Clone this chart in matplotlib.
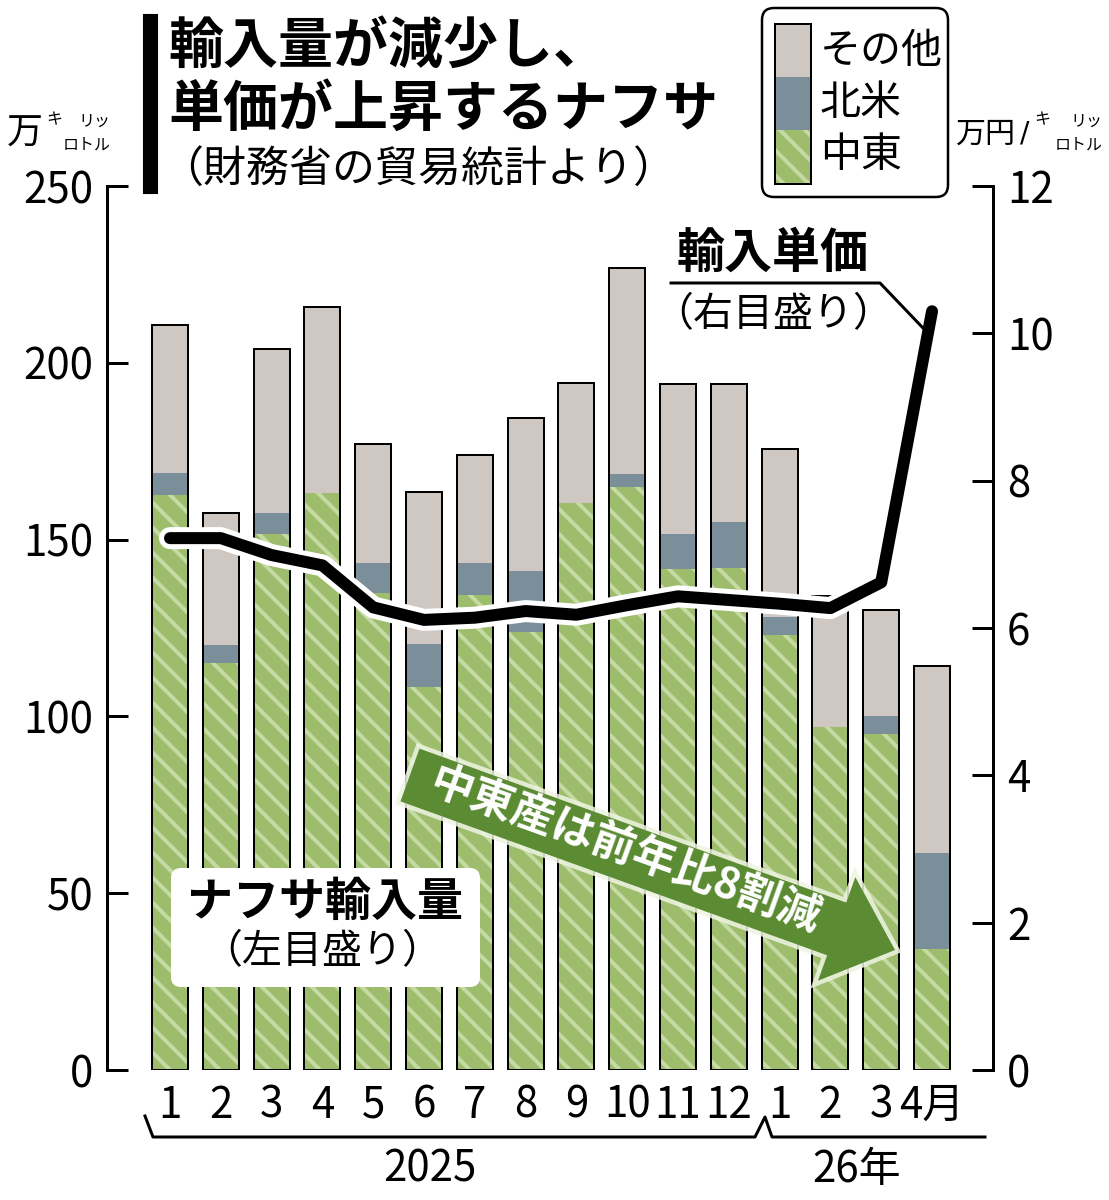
import matplotlib

matplotlib.use("Agg")
import matplotlib.patheffects as pe
import matplotlib.pyplot as plt
import numpy as np
from matplotlib.patches import FancyBboxPatch, Polygon, Rectangle

DPI = 150
W, H = 1109, 1200


def px(v):
    """pixels -> points at the output dpi"""
    return v * 72 / DPI


JP = ["Noto Sans CJK JP", "DejaVu Sans"]
plt.rcParams["font.family"] = JP
plt.rcParams["hatch.linewidth"] = px(4)

# ── data (万キロリットル, 万円/キロリットル) ──────────────────────────
months = ["1", "2", "3", "4", "5", "6", "7", "8", "9", "10", "11", "12",
          "1", "2", "3", "4月"]
mideast = [162.6, 115.1, 151.6, 163.2, 134.9, 108.3, 134.3, 123.9,
           160.3, 164.9, 141.7, 142.0, 123.0, 97.0, 95.0, 34.2]
namerica = [6.2, 5.1, 5.9, 0.0, 8.5, 12.2, 9.1, 17.2,
            0.0, 3.7, 9.9, 13.0, 5.1, 0.0, 5.1, 27.2]
other = [41.9, 37.3, 46.4, 52.6, 33.6, 43.0, 30.5, 43.3,
         34.0, 58.2, 42.4, 39.0, 47.5, 37.1, 30.0, 52.9]
price = [7.22, 7.22, 6.99, 6.85, 6.28, 6.11, 6.14, 6.23,
         6.18, 6.31, 6.43, 6.38, 6.33, 6.27, 6.62, 10.3]
left_ticks = [0, 50, 100, 150, 200, 250]
right_ticks = [0, 2, 4, 6, 8, 10, 12]

C_OTHER = "#cfc7c2"
C_NAM = "#7b8f9b"
C_ME = "#9dbc6c"
C_ME_HATCH = "#c6dba3"
C_ARROW = "#5b8b33"
NUM_SIZE = px(42)

# ── figure ──────────────────────────────────────────────────────────────
fig = plt.figure(figsize=(W / DPI, H / DPI), dpi=DPI)
ax = fig.add_axes([107 / W, 1 - 1070 / H, (993 - 107) / W, (1070 - 186) / H])

x = np.arange(len(months))
me = np.array(mideast)
na = np.array(namerica)
ot = np.array(other)
bw = 0.71

ax.bar(x, me, bw, color=C_ME, edgecolor=C_ME_HATCH, hatch="\\\\", lw=0)
ax.bar(x, na, bw, bottom=me, color=C_NAM, lw=0)
ax.bar(x, ot, bw, bottom=me + na, color=C_OTHER, lw=0)
ax.bar(x, me + na + ot, bw, fill=False, edgecolor="black", lw=px(2))

ax.set_xlim(-1.24, 16.2)
ax.set_ylim(0, 250)
for s in ("top", "right", "bottom"):
    ax.spines[s].set_visible(False)
ax.spines["left"].set_linewidth(px(3))
ax.set_yticks(left_ticks)
ax.tick_params(axis="y", direction="in", length=px(21), width=px(3), pad=px(14),
               labelsize=NUM_SIZE)
ax.set_xticks(x, months)
ax.tick_params(axis="x", length=0, pad=px(14), labelsize=NUM_SIZE)

ax2 = ax.twinx()
ax2.set_ylim(0, 12)
for s in ("top", "left", "bottom"):
    ax2.spines[s].set_visible(False)
ax2.spines["right"].set_linewidth(px(3))
ax2.set_yticks(right_ticks)
ax2.tick_params(axis="y", direction="in", length=px(21), width=px(3), pad=px(14),
                labelsize=NUM_SIZE)

ax2.plot(x, price, color="black", lw=px(12), solid_capstyle="round",
         solid_joinstyle="round",
         path_effects=[pe.Stroke(linewidth=px(22), foreground="white"), pe.Normal()])

# ── overlay in pixel coordinates ───────────────────────────────────────
ov = fig.add_axes([0, 0, 1, 1])
ov.set_xlim(0, W)
ov.set_ylim(H, 0)
ov.axis("off")

# title
ov.add_patch(Rectangle((144, 15), 13, 178, color="black"))
ov.text(168, 47, "輸入量が減少し、", fontsize=px(55), fontweight="bold", va="center")
ov.text(168, 110, "単価が上昇するナフサ", fontsize=px(55), fontweight="bold", va="center")
ov.text(160, 170, "（財務省の貿易統計より）", fontsize=px(43), va="center")

# legend
ov.add_patch(FancyBboxPatch((762, 8), 186, 189, boxstyle="round,pad=0,rounding_size=12",
                            fc="white", ec="black", lw=px(2.5)))
ov.add_patch(Rectangle((775, 24), 36, 53, fc=C_OTHER, lw=0))
ov.add_patch(Rectangle((775, 77), 36, 53, fc=C_NAM, lw=0))
ov.add_patch(Rectangle((775, 130), 36, 54, fc=C_ME, ec=C_ME_HATCH, hatch="\\\\", lw=0))
ov.add_patch(Rectangle((775, 24), 36, 160, fill=False, ec="black", lw=px(2)))
for label, yy in zip(["その他", "北米", "中東"], [51, 104, 156]):
    ov.text(820, yy, label, fontsize=px(41), va="center")

# unit labels
ov.text(25, 134, "万", fontsize=px(36), ha="center", va="center")
ov.text(54, 120, "キ", fontsize=px(16), ha="center", va="center")
ov.text(94, 121, "リッ", fontsize=px(16), ha="center", va="center")
ov.text(87, 145, "ロトル", fontsize=px(16), ha="center", va="center")
ov.text(986, 134, "万円", fontsize=px(30), ha="center", va="center")
ov.text(1025, 134, "/", fontsize=px(28), ha="center", va="center", fontfamily="DejaVu Sans")
ov.text(1042, 120, "キ", fontsize=px(16), ha="center", va="center")
ov.text(1086, 121, "リッ", fontsize=px(16), ha="center", va="center")
ov.text(1079, 145, "ロトル", fontsize=px(16), ha="center", va="center")

# price label with leader
ov.text(773, 253, "輸入単価", fontsize=px(48), fontweight="bold", ha="center", va="center")
ov.text(773, 315, "（右目盛り）", fontsize=px(40), ha="center", va="center")
ov.plot([671, 880, 923], [283, 283, 328], color="black", lw=px(3))

# volume label box
ov.add_patch(FancyBboxPatch((171, 868), 309, 119, boxstyle="round,pad=0,rounding_size=10",
                            fc="white", ec="none"))
ov.text(325, 902, "ナフサ輸入量", fontsize=px(46), fontweight="bold", ha="center", va="center")
ov.text(322, 952, "（左目盛り）", fontsize=px(40), ha="center", va="center")

# green arrow
tail = np.array([410.0, 775.0])
tip = np.array([895.0, 950.0])
u = (tip - tail) / np.linalg.norm(tip - tail)
n = np.array([-u[1], u[0]])
hw, hhw, hl = 28, 55, 62
neck = tip - u * hl
pts = [tail + n * hw, neck + n * hw, neck + n * hhw, tip,
       neck - n * hhw, neck - n * hw, tail - n * hw]
arrow = Polygon(pts, closed=True, fc=C_ARROW, ec="none",
                path_effects=[pe.Stroke(linewidth=px(9), foreground="#eef4e2", alpha=0.85),
                              pe.Normal()])
ov.add_patch(arrow)
ang = -np.degrees(np.arctan2(tip[1] - tail[1], tip[0] - tail[0]))
ov.text(625, 851, "中東産は前年比8割減", fontsize=px(43), fontweight="bold", color="white",
        rotation=ang, rotation_mode="anchor", ha="center", va="center")

# year brace
ov.plot([145, 153, 755, 765, 772, 985], [1116, 1137, 1137, 1117, 1137, 1137],
        color="black", lw=px(3))
ov.text(430, 1170, "2025", fontsize=NUM_SIZE, ha="center", va="center")
ov.text(857, 1170, "26年", fontsize=NUM_SIZE, ha="center", va="center")

fig.savefig("out.png", dpi=DPI)
